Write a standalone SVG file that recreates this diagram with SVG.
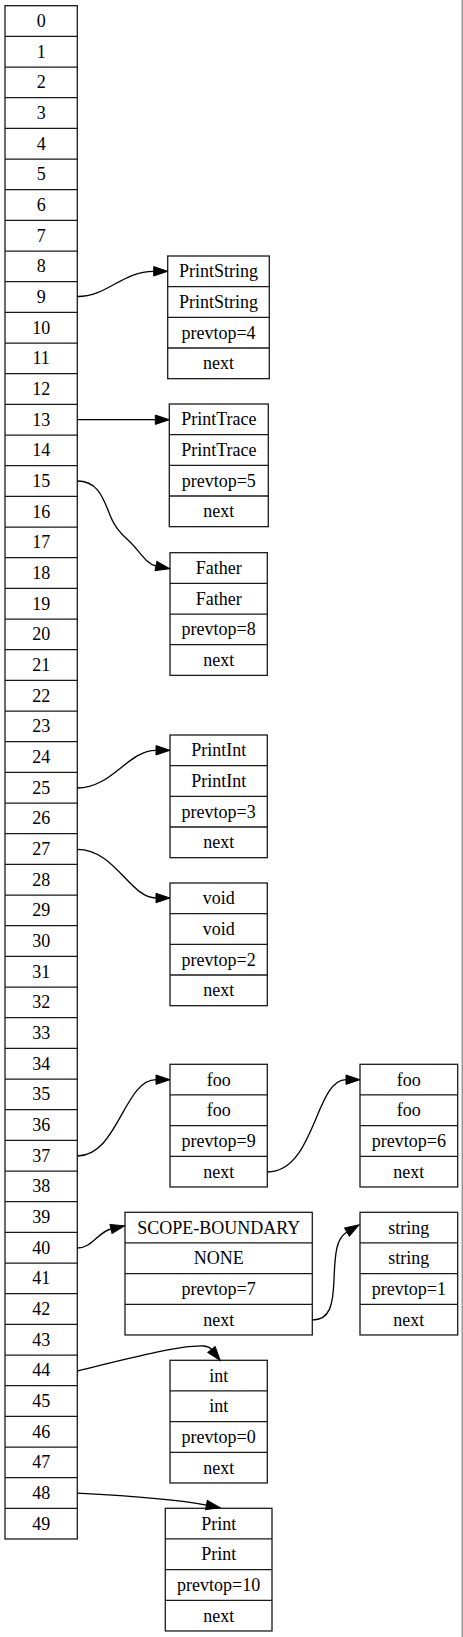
<svg xmlns="http://www.w3.org/2000/svg" width="463" height="1637" viewBox="0 0 463 1637">
<style>
.box{fill:#fff;stroke:#1a1a1a;stroke-width:1.3}
.sep{fill:none;stroke:#1a1a1a;stroke-width:1.3}
text{font-family:"Liberation Serif","Times New Roman",serif;font-size:18px;fill:#000;text-anchor:middle}
.edge{fill:none;stroke:#000;stroke-width:1.3}
</style>
<defs>
<marker id="ah" markerUnits="userSpaceOnUse" markerWidth="16" markerHeight="12" viewBox="0 -6 16 12" refX="0" refY="0" orient="auto" overflow="visible">
<path d="M0,-4.7 L14,0 L0,4.7 z" fill="#000" stroke="#000" stroke-width="1"/>
</marker>
</defs>
<rect width="463" height="1637" fill="#fff"/>
<rect x="461.5" y="0" width="1.5" height="1637" fill="#9a9a9a"/>

<g id="stack">
<rect class="box" x="5" y="5.7" width="72.3" height="1533.3"/>
<path class="sep" d="M5,36.37H77.3M5,67.03H77.3M5,97.7H77.3M5,128.37H77.3M5,159.03H77.3M5,189.7H77.3M5,220.37H77.3M5,251.03H77.3M5,281.7H77.3M5,312.37H77.3M5,343.03H77.3M5,373.7H77.3M5,404.37H77.3M5,435.03H77.3M5,465.7H77.3M5,496.37H77.3M5,527.03H77.3M5,557.7H77.3M5,588.37H77.3M5,619.03H77.3M5,649.7H77.3M5,680.37H77.3M5,711.03H77.3M5,741.7H77.3M5,772.37H77.3M5,803.03H77.3M5,833.7H77.3M5,864.37H77.3M5,895.03H77.3M5,925.7H77.3M5,956.37H77.3M5,987.03H77.3M5,1017.7H77.3M5,1048.37H77.3M5,1079.03H77.3M5,1109.7H77.3M5,1140.37H77.3M5,1171.03H77.3M5,1201.7H77.3M5,1232.37H77.3M5,1263.03H77.3M5,1293.7H77.3M5,1324.37H77.3M5,1355.03H77.3M5,1385.7H77.3M5,1416.37H77.3M5,1447.03H77.3M5,1477.7H77.3M5,1508.37H77.3"/>
<text x="41.2" y="27">0</text>
<text x="41.2" y="57.7">1</text>
<text x="41.2" y="88.4">2</text>
<text x="41.2" y="119">3</text>
<text x="41.2" y="149.7">4</text>
<text x="41.2" y="180.4">5</text>
<text x="41.2" y="211">6</text>
<text x="41.2" y="241.7">7</text>
<text x="41.2" y="272.4">8</text>
<text x="41.2" y="303">9</text>
<text x="41.2" y="333.7">10</text>
<text x="41.2" y="364.4">11</text>
<text x="41.2" y="395">12</text>
<text x="41.2" y="425.7">13</text>
<text x="41.2" y="456.4">14</text>
<text x="41.2" y="487">15</text>
<text x="41.2" y="517.7">16</text>
<text x="41.2" y="548.4">17</text>
<text x="41.2" y="579">18</text>
<text x="41.2" y="609.7">19</text>
<text x="41.2" y="640.4">20</text>
<text x="41.2" y="671">21</text>
<text x="41.2" y="701.7">22</text>
<text x="41.2" y="732.4">23</text>
<text x="41.2" y="763">24</text>
<text x="41.2" y="793.7">25</text>
<text x="41.2" y="824.4">26</text>
<text x="41.2" y="855">27</text>
<text x="41.2" y="885.7">28</text>
<text x="41.2" y="916.4">29</text>
<text x="41.2" y="947">30</text>
<text x="41.2" y="977.7">31</text>
<text x="41.2" y="1008.4">32</text>
<text x="41.2" y="1039">33</text>
<text x="41.2" y="1069.7">34</text>
<text x="41.2" y="1100.4">35</text>
<text x="41.2" y="1131">36</text>
<text x="41.2" y="1161.7">37</text>
<text x="41.2" y="1192.4">38</text>
<text x="41.2" y="1223">39</text>
<text x="41.2" y="1253.7">40</text>
<text x="41.2" y="1284.4">41</text>
<text x="41.2" y="1315">42</text>
<text x="41.2" y="1345.7">43</text>
<text x="41.2" y="1376.4">44</text>
<text x="41.2" y="1407">45</text>
<text x="41.2" y="1437.7">46</text>
<text x="41.2" y="1468.4">47</text>
<text x="41.2" y="1499">48</text>
<text x="41.2" y="1529.7">49</text>
</g>

<g id="node-printstring" transform="translate(167.7,256)">
<rect class="box" width="101.6" height="122.67"/>
<path class="sep" d="M0,30.67H101.6M0,61.33H101.6M0,92H101.6"/>
<text x="50.8" y="21.3">PrintString</text><text x="50.8" y="52">PrintString</text><text x="50.8" y="82.7">prevtop=4</text><text x="50.8" y="113.3">next</text>
</g>
<g id="node-printtrace" transform="translate(169.3,404)">
<rect class="box" width="99" height="122.67"/>
<path class="sep" d="M0,30.67H99M0,61.33H99M0,92H99"/>
<text x="49.5" y="21.3">PrintTrace</text><text x="49.5" y="52">PrintTrace</text><text x="49.5" y="82.7">prevtop=5</text><text x="49.5" y="113.3">next</text>
</g>
<g id="node-father" transform="translate(170,552.7)">
<rect class="box" width="97.3" height="122.67"/>
<path class="sep" d="M0,30.67H97.3M0,61.33H97.3M0,92H97.3"/>
<text x="48.65" y="21.3">Father</text><text x="48.65" y="52">Father</text><text x="48.65" y="82.7">prevtop=8</text><text x="48.65" y="113.3">next</text>
</g>
<g id="node-printint" transform="translate(170,735)">
<rect class="box" width="97.3" height="122.67"/>
<path class="sep" d="M0,30.67H97.3M0,61.33H97.3M0,92H97.3"/>
<text x="48.65" y="21.3">PrintInt</text><text x="48.65" y="52">PrintInt</text><text x="48.65" y="82.7">prevtop=3</text><text x="48.65" y="113.3">next</text>
</g>
<g id="node-void" transform="translate(170,883)">
<rect class="box" width="97.3" height="122.67"/>
<path class="sep" d="M0,30.67H97.3M0,61.33H97.3M0,92H97.3"/>
<text x="48.65" y="21.3">void</text><text x="48.65" y="52">void</text><text x="48.65" y="82.7">prevtop=2</text><text x="48.65" y="113.3">next</text>
</g>
<g id="node-foo1" transform="translate(170,1064.3)">
<rect class="box" width="97.3" height="122.67"/>
<path class="sep" d="M0,30.67H97.3M0,61.33H97.3M0,92H97.3"/>
<text x="48.65" y="21.3">foo</text><text x="48.65" y="52">foo</text><text x="48.65" y="82.7">prevtop=9</text><text x="48.65" y="113.3">next</text>
</g>
<g id="node-foo2" transform="translate(360,1064.3)">
<rect class="box" width="97.7" height="122.67"/>
<path class="sep" d="M0,30.67H97.7M0,61.33H97.7M0,92H97.7"/>
<text x="48.85" y="21.3">foo</text><text x="48.85" y="52">foo</text><text x="48.85" y="82.7">prevtop=6</text><text x="48.85" y="113.3">next</text>
</g>
<g id="node-scope" transform="translate(125,1212.3)">
<rect class="box" width="187.3" height="122.67"/>
<path class="sep" d="M0,30.67H187.3M0,61.33H187.3M0,92H187.3"/>
<text x="93.65" y="21.3">SCOPE-BOUNDARY</text><text x="93.65" y="52">NONE</text><text x="93.65" y="82.7">prevtop=7</text><text x="93.65" y="113.3">next</text>
</g>
<g id="node-string" transform="translate(360,1212.3)">
<rect class="box" width="97.7" height="122.67"/>
<path class="sep" d="M0,30.67H97.7M0,61.33H97.7M0,92H97.7"/>
<text x="48.85" y="21.3">string</text><text x="48.85" y="52">string</text><text x="48.85" y="82.7">prevtop=1</text><text x="48.85" y="113.3">next</text>
</g>
<g id="node-int" transform="translate(170,1360.3)">
<rect class="box" width="97.3" height="122.67"/>
<path class="sep" d="M0,30.67H97.3M0,61.33H97.3M0,92H97.3"/>
<text x="48.65" y="21.3">int</text><text x="48.65" y="52">int</text><text x="48.65" y="82.7">prevtop=0</text><text x="48.65" y="113.3">next</text>
</g>
<g id="node-print" transform="translate(165.3,1508.3)">
<rect class="box" width="106.7" height="122.67"/>
<path class="sep" d="M0,30.67H106.7M0,61.33H106.7M0,92H106.7"/>
<text x="53.35" y="21.3">Print</text><text x="53.35" y="52">Print</text><text x="53.35" y="82.7">prevtop=10</text><text x="53.35" y="113.3">next</text>
</g>

<g id="edges" marker-end="url(#ah)">
<path class="edge" marker-end="url(#ah)" d="M77.3,296.5 C108,296.5 122,271.3 153.7,271.3"/>
<path class="edge" marker-end="url(#ah)" d="M77.3,419.7 L155.3,419.7"/>
<path class="edge" marker-end="url(#ah)" d="M77.3,481 C96,481 102,495 108,510 C113,524 118,531 128,540 C140,551 146,564 156,566"/>
<path class="edge" marker-end="url(#ah)" d="M77.3,788 C112,788 128,750.3 156,750.3"/>
<path class="edge" marker-end="url(#ah)" d="M77.3,849.3 C115,849.3 130,898 156,898"/>
<path class="edge" marker-end="url(#ah)" d="M77.3,1156 C118,1156 124,1079.7 156,1079.7"/>
<path class="edge" marker-end="url(#ah)" d="M267.3,1172 C315,1172 315,1079.7 346,1079.7"/>
<path class="edge" marker-end="url(#ah)" d="M77.3,1248 C92,1248 98,1232 111,1229"/>
<path class="edge" marker-end="url(#ah)" d="M312.3,1320 C330,1320 333,1305 334,1280 C335,1250 337,1238 347,1232"/>
<path class="edge" marker-end="url(#ah)" d="M77.3,1371 C130,1358 180,1345 204,1346 C207,1346.3 209.5,1347 211.5,1349.5"/>
<path class="edge" marker-end="url(#ah)" d="M77.3,1493.2 C130,1496 175,1499 206.4,1505.1"/>
</g>
</svg>
